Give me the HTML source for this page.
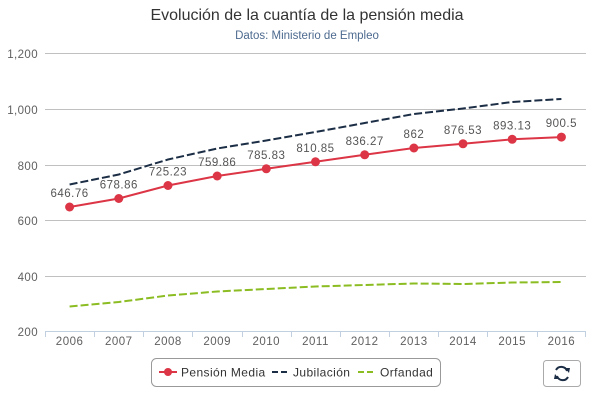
<!DOCTYPE html>
<html><head><meta charset="utf-8"><style>
body{margin:0;background:#fff;}
svg{display:block;font-family:"Liberation Sans",sans-serif;}
</style></head><body>
<svg width="614" height="405" viewBox="0 0 614 405" xmlns="http://www.w3.org/2000/svg">
<text x="307" y="20" text-anchor="middle" font-size="16" fill="#333">Evolución de la cuantía de la pensión media</text>
<text x="307" y="39" text-anchor="middle" font-size="11.5" fill="#4d6a8f">Datos: Ministerio de Empleo</text>
<g stroke="#c0c0c0" stroke-width="1">
<line x1="45" x2="586" y1="53.5" y2="53.5"/><line x1="45" x2="586" y1="109.5" y2="109.5"/>
<line x1="45" x2="586" y1="165.5" y2="165.5"/><line x1="45" x2="586" y1="220.5" y2="220.5"/>
<line x1="45" x2="586" y1="276.5" y2="276.5"/>
</g>
<line x1="45" x2="586" y1="331.5" y2="331.5" stroke="#c0d0e0"/>
<g stroke="#c0d0e0">
<line x1="45.5" x2="45.5" y1="331" y2="337"/><line x1="94.5" x2="94.5" y1="331" y2="337"/><line x1="143.5" x2="143.5" y1="331" y2="337"/><line x1="192.5" x2="192.5" y1="331" y2="337"/><line x1="242.5" x2="242.5" y1="331" y2="337"/><line x1="291.5" x2="291.5" y1="331" y2="337"/><line x1="340.5" x2="340.5" y1="331" y2="337"/><line x1="389.5" x2="389.5" y1="331" y2="337"/><line x1="438.5" x2="438.5" y1="331" y2="337"/><line x1="487.5" x2="487.5" y1="331" y2="337"/><line x1="537.5" x2="537.5" y1="331" y2="337"/><line x1="585.5" x2="585.5" y1="331" y2="337"/>
</g>
<g font-size="11.5" fill="#606060" text-anchor="end" letter-spacing="0.4">
<text x="38" y="58">1,200</text><text x="38" y="114">1,000</text><text x="38" y="170">800</text><text x="38" y="225">600</text><text x="38" y="281">400</text><text x="38" y="336">200</text>
</g>
<g font-size="11.5" fill="#606060" text-anchor="middle" letter-spacing="0.5">
<text x="69.6" y="345">2006</text><text x="118.8" y="345">2007</text><text x="168" y="345">2008</text><text x="217.2" y="345">2009</text><text x="266.3" y="345">2010</text><text x="315.5" y="345">2011</text><text x="364.7" y="345">2012</text><text x="413.9" y="345">2013</text><text x="463" y="345">2014</text><text x="512.2" y="345">2015</text><text x="561.4" y="345">2016</text>
</g>
<polyline fill="none" stroke="#1c2e45" stroke-width="2" stroke-dasharray="8,3" points="69.6,184.5 118.8,174.5 168,159.5 217.2,148.5 266.3,140.5 315.5,132 364.7,123 413.9,114 463,108.5 512.2,102 561.4,99"/>
<polyline fill="none" stroke="#8bbc21" stroke-width="2" stroke-dasharray="8,3" points="69.6,306.5 118.8,302 168,295.5 217.2,291.5 266.3,289 315.5,286.5 364.7,285 413.9,283.5 463,284 512.2,282.5 561.4,282"/>
<polyline fill="none" stroke="#dc3545" stroke-width="2" points="69.6,207 118.8,198.5 168,185.5 217.2,176 266.3,168.8 315.5,161.8 364.7,154.8 413.9,148 463,143.8 512.2,139.3 561.4,137.1"/>
<g fill="#dc3545">
<circle cx="69.6" cy="207" r="4.5"/><circle cx="118.8" cy="198.5" r="4.5"/><circle cx="168" cy="185.5" r="4.5"/><circle cx="217.2" cy="176" r="4.5"/><circle cx="266.3" cy="168.8" r="4.5"/><circle cx="315.5" cy="161.8" r="4.5"/><circle cx="364.7" cy="154.8" r="4.5"/><circle cx="413.9" cy="148" r="4.5"/><circle cx="463" cy="143.8" r="4.5"/><circle cx="512.2" cy="139.3" r="4.5"/><circle cx="561.4" cy="137.1" r="4.5"/>
</g>
<g font-size="11.5" fill="#555" text-anchor="middle" letter-spacing="0.5">
<text x="69.6" y="197">646.76</text><text x="118.8" y="188.5">678.86</text><text x="168" y="175.5">725.23</text><text x="217.2" y="166">759.86</text><text x="266.3" y="158.8">785.83</text><text x="315.5" y="151.8">810.85</text><text x="364.7" y="144.8">836.27</text><text x="413.9" y="138">862</text><text x="463" y="133.8">876.53</text><text x="512.2" y="129.3">893.13</text><text x="561.4" y="127.1">900.5</text>
</g>
<rect x="151.5" y="358.5" width="289" height="28" rx="5" fill="#fff" stroke="#999"/>
<line x1="159" x2="177" y1="372" y2="372" stroke="#dc3545" stroke-width="2"/><circle cx="168" cy="372" r="4" fill="#dc3545"/>
<g font-size="12" fill="#333" letter-spacing="0.4">
<text x="181" y="376.5">Pensión Media</text>
<text x="293" y="376.5">Jubilación</text>
<text x="380" y="376.5">Orfandad</text>
</g>
<line x1="272" x2="290" y1="372" y2="372" stroke="#1c2e45" stroke-width="2" stroke-dasharray="6,3"/>
<line x1="358" x2="376" y1="372" y2="372" stroke="#8bbc21" stroke-width="2" stroke-dasharray="6,3"/>
<rect x="543.5" y="360.5" width="37" height="26" rx="3" fill="#fff" stroke="#aaa"/>
<g fill="none" stroke="#1c2e45" stroke-width="2">
<path d="M556 370 A6 6 0 0 1 567 371"/><path d="M568 377 A6 6 0 0 1 557 376"/>
</g>
<polygon points="565,368 570,368 569,373" fill="#1c2e45"/>
<polygon points="559,379 554,379 555,374" fill="#1c2e45"/>
</svg>
</body></html>
